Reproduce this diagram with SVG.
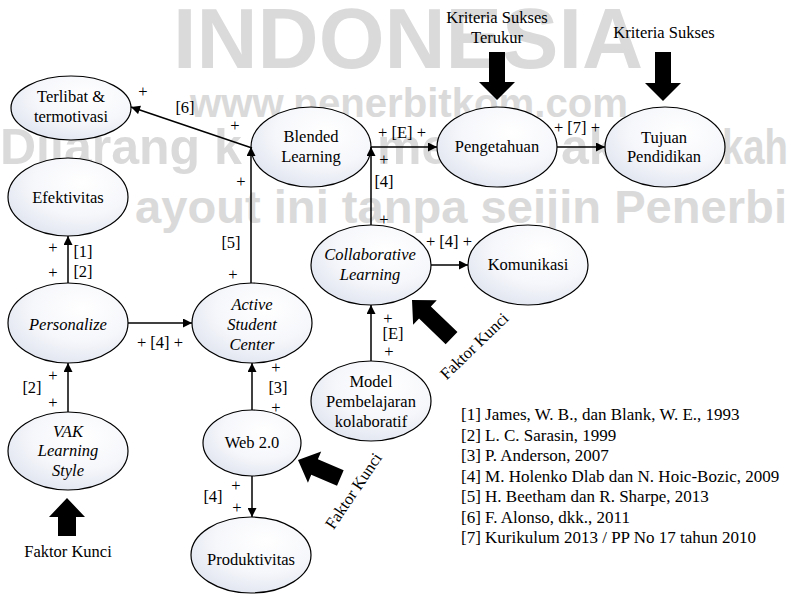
<svg xmlns="http://www.w3.org/2000/svg" width="790" height="594" viewBox="0 0 790 594">
  <defs>
    <radialGradient id="nodeFill" cx="62%" cy="32%" r="75%">
      <stop offset="0" stop-color="#ffffff"/>
      <stop offset="0.55" stop-color="#f6f7fb"/>
      <stop offset="1" stop-color="#dfe4ef"/>
    </radialGradient>
    <marker id="ah" viewBox="0 0 10 10" refX="10" refY="5" markerWidth="10" markerHeight="9" markerUnits="userSpaceOnUse" orient="auto">
      <path d="M0,0 L10,5 L0,10 Z" fill="#000"/>
    </marker>
    <!-- block arrow pointing up, tip at the origin -->
    <path id="blockUp55" d="M0,0 L17,18 L8.5,18 L8.5,55 L-8.5,55 L-8.5,18 L-17,18 Z"/>
    <path id="blockUp46" d="M0,0 L17,18 L8.5,18 L8.5,46 L-8.5,46 L-8.5,18 L-17,18 Z"/>
  </defs>
  <style>
    .wm { font-family: "Liberation Sans", Arial, sans-serif; font-weight: bold; fill: #dadada; }
    .node ellipse { fill: url(#nodeFill); stroke: #000; stroke-width: 1.2; }
    text.t { font-family: "Liberation Serif", "Times New Roman", serif; font-size: 16.5px; fill: #000; text-anchor: middle; }
    .it { font-style: italic; }
    .edge { stroke: #000; stroke-width: 1.5; fill: none; marker-end: url(#ah); }
    .ref { font-family: "Liberation Serif", "Times New Roman", serif; font-size: 17px; fill: #000; }
    .block { fill: #000; }
  </style>

  <rect width="790" height="594" fill="#ffffff"/>

  <!-- publisher watermark -->
  <g id="watermark">
    <text class="wm" x="173" y="68" font-size="85" textLength="470" lengthAdjust="spacingAndGlyphs">INDONESIA</text>
    <text class="wm" x="190" y="117" font-size="40" textLength="438" lengthAdjust="spacingAndGlyphs">www.penerbitkom.com</text>
    <text class="wm" y="164" font-size="50"><tspan x="0">Dilarang k</tspan><tspan x="377">me</tspan><tspan x="561">ak</tspan><tspan x="722" textLength="66" lengthAdjust="spacingAndGlyphs">kah</tspan></text>
    <text class="wm" x="135" y="223" font-size="47" textLength="652" lengthAdjust="spacingAndGlyphs">ayout ini tanpa seijin Penerbi</text>
  </g>

  <!-- nodes -->
  <g id="terlibat" class="node">
    <ellipse cx="71" cy="108" rx="60" ry="32"/>
    <text class="t" x="71" y="102">Terlibat &amp;</text>
    <text class="t" x="71" y="122">termotivasi</text>
  </g>
  <g id="efektivitas" class="node">
    <ellipse cx="68" cy="197" rx="60" ry="39"/>
    <text class="t" x="68" y="203">Efektivitas</text>
  </g>
  <g id="personalize" class="node">
    <ellipse cx="68" cy="323" rx="60" ry="40"/>
    <text class="t it" x="68" y="330">Personalize</text>
  </g>
  <g id="vak" class="node">
    <ellipse cx="68" cy="451" rx="60" ry="39"/>
    <text class="t it" x="68" y="437">VAK</text>
    <text class="t it" x="68" y="456">Learning</text>
    <text class="t it" x="68" y="476">Style</text>
  </g>
  <g id="active-student-center" class="node">
    <ellipse cx="252" cy="323" rx="60" ry="40"/>
    <text class="t it" x="252" y="310">Active</text>
    <text class="t it" x="252" y="330">Student</text>
    <text class="t it" x="252" y="350">Center</text>
  </g>
  <g id="blended" class="node">
    <ellipse cx="311" cy="147" rx="60" ry="40"/>
    <text class="t" x="311" y="142">Blended</text>
    <text class="t" x="311" y="162">Learning</text>
  </g>
  <g id="pengetahuan" class="node">
    <ellipse cx="497" cy="147" rx="60" ry="40"/>
    <text class="t" x="497" y="152">Pengetahuan</text>
  </g>
  <g id="tujuan" class="node">
    <ellipse cx="665" cy="147" rx="60" ry="40"/>
    <text class="t" x="664" y="143">Tujuan</text>
    <text class="t" x="664" y="162">Pendidikan</text>
  </g>
  <g id="collaborative" class="node">
    <ellipse cx="371" cy="265" rx="60" ry="40"/>
    <text class="t it" x="370" y="260">Collaborative</text>
    <text class="t it" x="370" y="280">Learning</text>
  </g>
  <g id="komunikasi" class="node">
    <ellipse cx="528" cy="265" rx="60" ry="40"/>
    <text class="t" x="528" y="270">Komunikasi</text>
  </g>
  <g id="model" class="node">
    <ellipse cx="371" cy="401" rx="60" ry="40"/>
    <text class="t" x="371" y="387">Model</text>
    <text class="t" x="371" y="407">Pembelajaran</text>
    <text class="t" x="371" y="427">kolaboratif</text>
  </g>
  <g id="web20" class="node">
    <ellipse cx="252" cy="443" rx="49" ry="33"/>
    <text class="t" x="252" y="448">Web 2.0</text>
  </g>
  <g id="produktivitas" class="node">
    <ellipse cx="251" cy="555" rx="60" ry="38"/>
    <text class="t" x="251" y="565">Produktivitas</text>
  </g>

  <!-- connectors -->
  <g id="connectors">
    <line class="edge" x1="252" y1="148" x2="131" y2="107"/>
    <line class="edge" x1="251" y1="283" x2="251" y2="147"/>
    <line class="edge" x1="371" y1="147" x2="437" y2="147"/>
    <line class="edge" x1="557" y1="147" x2="605" y2="147"/>
    <line class="edge" x1="371" y1="225" x2="371" y2="147"/>
    <line class="edge" x1="68" y1="283" x2="68" y2="236"/>
    <line class="edge" x1="68" y1="412" x2="68" y2="363"/>
    <line class="edge" x1="128" y1="323" x2="192" y2="323"/>
    <line class="edge" x1="252" y1="410" x2="252" y2="363"/>
    <line class="edge" x1="252" y1="476" x2="252" y2="517"/>
    <line class="edge" x1="431" y1="265" x2="468" y2="265"/>
    <line class="edge" x1="371" y1="361" x2="371" y2="305"/>
  </g>

  <!-- connector labels -->
  <g id="edge-labels">
    <text class="t" x="143" y="97">+</text>
    <text class="t" x="185" y="113">[6]</text>
    <text class="t" x="235" y="131">+</text>
    <text class="t" x="241" y="187">+</text>
    <text class="t" x="231" y="248">[5]</text>
    <text class="t" x="233" y="280">+</text>
    <text class="t" x="402" y="138">+ [E] +</text>
    <text class="t" x="384" y="165">+</text>
    <text class="t" x="384" y="187">[4]</text>
    <text class="t" x="384" y="225">+</text>
    <text class="t" x="449" y="247">+ [4] +</text>
    <text class="t" x="388" y="324">+</text>
    <text class="t" x="393" y="339">[E]</text>
    <text class="t" x="389" y="357">+</text>
    <text class="t" x="577" y="133">+ [7] +</text>
    <text class="t" x="53" y="253">+</text>
    <text class="t" x="83" y="257">[1]</text>
    <text class="t" x="53" y="278">+</text>
    <text class="t" x="83" y="277">[2]</text>
    <text class="t" x="160" y="348">+ [4] +</text>
    <text class="t" x="53" y="381">+</text>
    <text class="t" x="32" y="393">[2]</text>
    <text class="t" x="53" y="408">+</text>
    <text class="t" x="276" y="373">+</text>
    <text class="t" x="278" y="393">[3]</text>
    <text class="t" x="276" y="413">+</text>
    <text class="t" x="236" y="491">+</text>
    <text class="t" x="213" y="502">[4]</text>
    <text class="t" x="237" y="513">+</text>
  </g>

  <!-- success criteria and key factor callouts -->
  <g id="kriteria-terukur">
    <text class="t" x="497" y="23">Kriteria Sukses</text>
    <text class="t" x="497" y="43">Terukur</text>
    <path class="block" d="M489,52 H505 V82 H515 L497,100 L479,82 H489 Z"/>
  </g>
  <g id="kriteria-sukses">
    <text class="t" x="664" y="38">Kriteria Sukses</text>
    <path class="block" d="M655,52 H671 V83 H681 L663,101 L645,83 H655 Z"/>
  </g>
  <g id="faktor-vak">
    <path class="block" d="M67,498 L85,517 H76 V536 H58 V517 H49 Z"/>
    <text class="t" x="68" y="557">Faktor Kunci</text>
  </g>
  <g id="faktor-collaborative">
    <use href="#blockUp55" class="block" transform="translate(412,300) rotate(-46)"/>
    <text class="t" transform="translate(478,350) rotate(-44)" x="0" y="0">Faktor Kunci</text>
  </g>
  <g id="faktor-web">
    <use href="#blockUp46" class="block" transform="translate(298,460) rotate(-67)"/>
    <text class="t" transform="translate(358,494) rotate(-56)" x="0" y="0">Faktor Kunci</text>
  </g>

  <!-- reference list -->
  <g id="references">
    <text class="ref" x="461" y="420">[1] James, W. B., dan Blank, W. E., 1993</text>
    <text class="ref" x="461" y="440.5">[2] L. C. Sarasin, 1999</text>
    <text class="ref" x="461" y="461">[3] P. Anderson, 2007</text>
    <text class="ref" x="461" y="481.5">[4] M. Holenko Dlab dan N. Hoic-Bozic, 2009</text>
    <text class="ref" x="461" y="502">[5] H. Beetham dan R. Sharpe, 2013</text>
    <text class="ref" x="461" y="522.5">[6] F. Alonso, dkk., 2011</text>
    <text class="ref" x="461" y="543">[7] Kurikulum 2013 / PP No 17 tahun 2010</text>
  </g>
</svg>
